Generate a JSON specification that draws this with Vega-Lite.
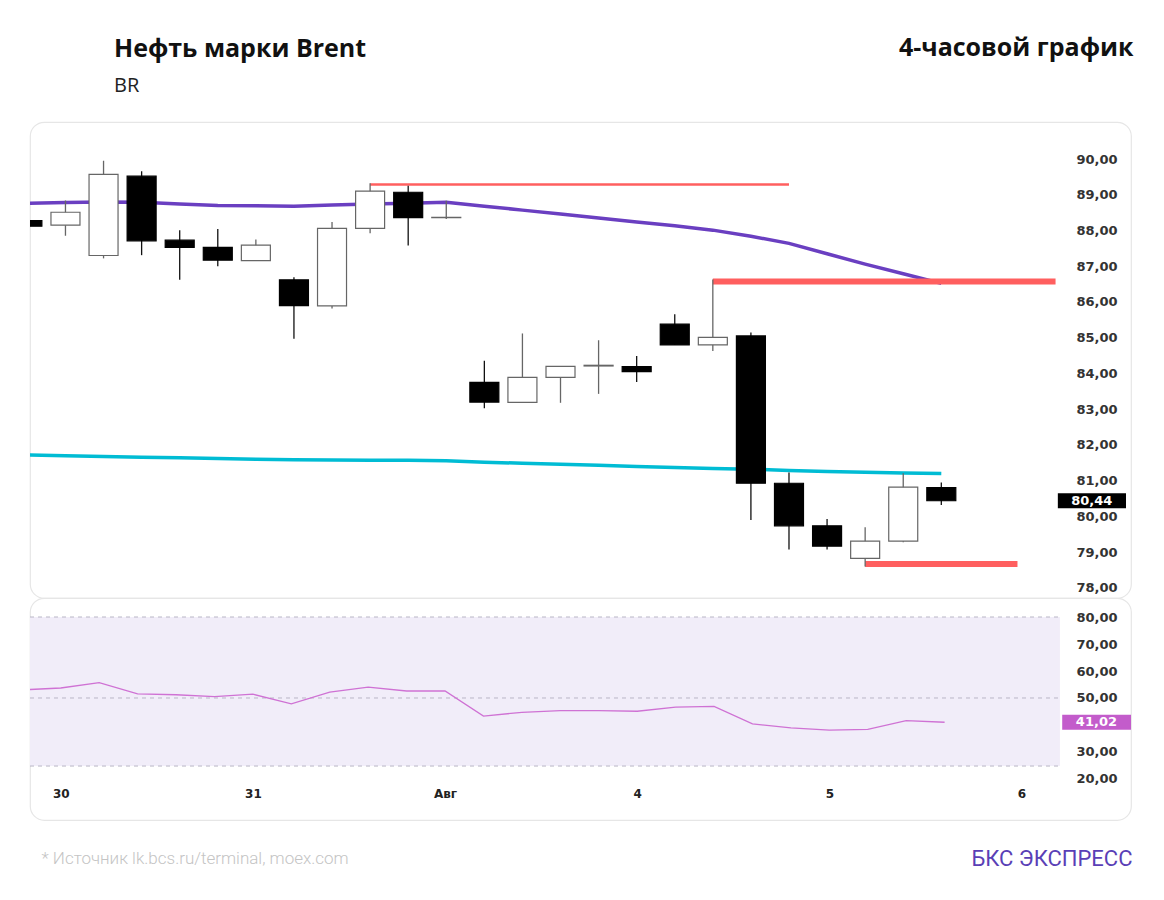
{
  "$schema": "https://vega.github.io/schema/vega-lite/v6.json",
  "padding": {"left": 28, "top": 34, "right": 32, "bottom": 20},
  "title": {
    "text": "Нефть марки Brent",
    "subtitle": "BR",
    "anchor": "start",
    "frame": "group",
    "dx": 84,
    "offset": -62,
    "font": "Open Sans",
    "fontSize": 25,
    "fontWeight": "bold",
    "color": "#111111",
    "subtitleFont": "Open Sans",
    "subtitleFontSize": 20,
    "subtitleColor": "#222222",
    "subtitlePadding": 14
  },
  "datasets": {
    "candles": [
      {"i": -1, "o": 88.28, "h": 88.30, "l": 88.10, "c": 88.12, "ma1": 88.76, "ma2": 81.72, "rsi": 53.0},
      {"i": 0, "o": 88.15, "h": 88.84, "l": 87.85, "c": 88.51, "ma1": 88.78, "ma2": 81.70, "rsi": 53.7},
      {"i": 1, "o": 87.30, "h": 89.95, "l": 87.22, "c": 89.57, "ma1": 88.80, "ma2": 81.68, "rsi": 55.7},
      {"i": 2, "o": 89.52, "h": 89.66, "l": 87.31, "c": 87.71, "ma1": 88.79, "ma2": 81.66, "rsi": 51.5},
      {"i": 3, "o": 87.73, "h": 88.01, "l": 86.62, "c": 87.53, "ma1": 88.74, "ma2": 81.64, "rsi": 51.2},
      {"i": 4, "o": 87.53, "h": 88.04, "l": 87.00, "c": 87.17, "ma1": 88.70, "ma2": 81.62, "rsi": 50.5},
      {"i": 5, "o": 87.16, "h": 87.75, "l": 87.16, "c": 87.59, "ma1": 88.69, "ma2": 81.60, "rsi": 51.4},
      {"i": 6, "o": 86.62, "h": 86.69, "l": 84.97, "c": 85.90, "ma1": 88.68, "ma2": 81.59, "rsi": 47.8},
      {"i": 7, "o": 85.89, "h": 88.24, "l": 85.82, "c": 88.06, "ma1": 88.71, "ma2": 81.58, "rsi": 52.2},
      {"i": 8, "o": 88.06, "h": 89.32, "l": 87.92, "c": 89.10, "ma1": 88.74, "ma2": 81.57, "rsi": 54.0},
      {"i": 9, "o": 89.07, "h": 89.25, "l": 87.58, "c": 88.36, "ma1": 88.76, "ma2": 81.57, "rsi": 52.6},
      {"i": 10, "o": 88.36, "h": 88.83, "l": 88.32, "c": 88.37, "ma1": 88.79, "ma2": 81.56, "rsi": 52.6},
      {"i": 11, "o": 83.75, "h": 84.36, "l": 83.03, "c": 83.20, "ma1": 88.68, "ma2": 81.52, "rsi": 43.3},
      {"i": 12, "o": 83.19, "h": 85.12, "l": 83.19, "c": 83.89, "ma1": 88.57, "ma2": 81.49, "rsi": 44.7},
      {"i": 13, "o": 83.89, "h": 84.21, "l": 83.18, "c": 84.20, "ma1": 88.46, "ma2": 81.46, "rsi": 45.3},
      {"i": 14, "o": 84.21, "h": 84.93, "l": 83.43, "c": 84.23, "ma1": 88.35, "ma2": 81.43, "rsi": 45.3},
      {"i": 15, "o": 84.19, "h": 84.49, "l": 83.76, "c": 84.05, "ma1": 88.24, "ma2": 81.40, "rsi": 45.1},
      {"i": 16, "o": 85.38, "h": 85.66, "l": 84.80, "c": 84.80, "ma1": 88.13, "ma2": 81.37, "rsi": 46.6},
      {"i": 17, "o": 84.80, "h": 86.63, "l": 84.63, "c": 85.01, "ma1": 88.01, "ma2": 81.34, "rsi": 46.9},
      {"i": 18, "o": 85.05, "h": 85.15, "l": 79.90, "c": 80.93, "ma1": 87.84, "ma2": 81.32, "rsi": 40.4},
      {"i": 19, "o": 80.93, "h": 81.23, "l": 79.08, "c": 79.74, "ma1": 87.64, "ma2": 81.29, "rsi": 38.9},
      {"i": 20, "o": 79.74, "h": 79.93, "l": 79.08, "c": 79.17, "ma1": 87.35, "ma2": 81.26, "rsi": 38.1},
      {"i": 21, "o": 78.83, "h": 79.70, "l": 78.60, "c": 79.31, "ma1": 87.06, "ma2": 81.24, "rsi": 38.4},
      {"i": 22, "o": 79.31, "h": 81.21, "l": 79.28, "c": 80.82, "ma1": 86.79, "ma2": 81.22, "rsi": 41.6},
      {"i": 23, "o": 80.81, "h": 80.95, "l": 80.32, "c": 80.44, "ma1": 86.52, "ma2": 81.20, "rsi": 41.02}
    ],
    "levels": [
      {"level": 89.29, "start": 8, "end": 19, "kind": "minor"},
      {"level": 86.57, "start": 17, "end": 26, "kind": "major"},
      {"level": 78.67, "start": 21, "end": 25, "kind": "major"}
    ],
    "rsi_zone": [
      {"upper": 80, "lower": 24.8}
    ],
    "rsi_guides": [
      {"level": 80},
      {"level": 50},
      {"level": 24.8}
    ]
  },
  "spacing": 0,
  "bounds": "flush",
  "vconcat": [
    {
      "width": 1101,
      "height": 476,
      "layer": [
        {
          "data": {"name": "candles"},
          "mark": {"type": "line", "color": "#00bcd4", "strokeWidth": 3.5, "clip": true},
          "encoding": {
            "x": {"field": "i", "type": "quantitative", "scale": {"domain": [-0.8, 27.85], "nice": false, "zero": false}, "axis": null},
            "y": {
              "field": "ma2", "type": "quantitative",
              "scale": {"domain": [77.72, 91.035], "nice": false, "zero": false},
              "axis": {
                "orient": "right", "offset": -57, "labelPadding": 2, "labelAlign": "left",
                "values": [78, 79, 80, 81, 82, 83, 84, 85, 86, 87, 88, 89, 90], "tickCount": 20, "format": ".2f",
                "title": "4-часовой график", "titleAngle": 0, "titleX": 59, "titleY": -75,
                "titleAlign": "right", "titleBaseline": "middle",
                "titleFont": "Open Sans", "titleFontSize": 25, "titleFontWeight": "bold", "titleColor": "#111111"
              }
            }
          }
        },
        {
          "data": {"name": "candles"},
          "mark": {"type": "line", "color": "#6a3fc1", "strokeWidth": 3.5, "clip": true},
          "encoding": {
            "x": {"field": "i", "type": "quantitative"},
            "y": {"field": "ma1", "type": "quantitative"}
          }
        },
        {
          "data": {"name": "levels"},
          "mark": {"type": "rule", "color": "#ff5f5f", "strokeCap": "butt", "clip": true},
          "encoding": {
            "x": {"field": "start", "type": "quantitative"},
            "x2": {"field": "end"},
            "y": {"field": "level", "type": "quantitative"},
            "strokeWidth": {"field": "kind", "type": "nominal", "scale": {"domain": ["minor", "major"], "range": [2.5, 6]}, "legend": null}
          }
        },
        {
          "data": {"name": "candles"},
          "mark": {"type": "rule", "strokeWidth": 1.3, "clip": true},
          "encoding": {
            "x": {"field": "i", "type": "quantitative"},
            "y": {"field": "l", "type": "quantitative"},
            "y2": {"field": "h"},
            "color": {"condition": {"test": "datum.c < datum.o", "value": "#111111"}, "value": "#666666"}
          }
        },
        {
          "data": {"name": "candles"},
          "mark": {"type": "bar", "width": 29, "strokeWidth": 1.2, "clip": true},
          "encoding": {
            "x": {"field": "i", "type": "quantitative"},
            "y": {"field": "o", "type": "quantitative"},
            "y2": {"field": "c"},
            "fill": {"condition": {"test": "datum.c < datum.o", "value": "#000000"}, "value": "#ffffff"},
            "stroke": {"condition": {"test": "datum.c < datum.o", "value": "#000000"}, "value": "#666666"}
          }
        },
        {
          "data": {"name": "candles"},
          "transform": [{"filter": "datum.i == 23"}],
          "mark": {"type": "rule", "color": "#000000", "strokeWidth": 15, "strokeCap": "butt"},
          "encoding": {
            "x": {"datum": 26.06},
            "x2": {"datum": 27.85},
            "y": {"field": "c", "type": "quantitative"}
          }
        },
        {
          "data": {"name": "candles"},
          "transform": [{"filter": "datum.i == 23"}],
          "mark": {"type": "text", "color": "#ffffff", "font": "DejaVu Sans", "fontSize": 13, "fontWeight": "bold", "align": "center", "baseline": "middle"},
          "encoding": {
            "x": {"datum": 26.95},
            "y": {"field": "c", "type": "quantitative"},
            "text": {"field": "c", "type": "quantitative", "format": ".2f"}
          }
        }
      ]
    },
    {
      "width": 1101,
      "height": 222,
      "layer": [
        {
          "data": {"name": "rsi_zone"},
          "mark": {"type": "rect", "color": "#f1edf9", "clip": true},
          "encoding": {
            "x": {"datum": -0.8, "type": "quantitative", "scale": {"domain": [-0.8, 27.85], "nice": false, "zero": false},
              "axis": {
                "orient": "bottom", "offset": -34, "labelPadding": 2,
                "values": [0, 5, 10, 15, 20, 25],
                "labelExpr": "['30', '31', 'Авг', '4', '5', '6'][datum.value / 5]",
                "labelFontSize": 12, "labelFontWeight": "bold", "labelColor": "#222222",
                "title": "* Источник lk.bcs.ru/terminal, moex.com", "titleX": 11, "titleY": 72,
                "titleAlign": "left", "titleBaseline": "middle", "titleAnchor": "start",
                "titleFont": "Roboto", "titleFontSize": 17, "titleFontWeight": 300, "titleColor": "#c4c4c4"
              }
            },
            "x2": {"datum": 26},
            "y": {"field": "upper", "type": "quantitative",
              "scale": {"domain": [4.81, 87.04], "nice": false, "zero": false},
              "axis": {
                "orient": "right", "offset": -57, "labelPadding": 2, "labelAlign": "left",
                "values": [20, 30, 50, 60, 70, 80], "tickCount": 10, "format": ".2f",
                "title": "БКС ЭКСПРЕСС", "titleAngle": 0, "titleX": 58, "titleY": 260,
                "titleAlign": "right", "titleBaseline": "middle",
                "titleFont": "Roboto", "titleFontSize": 22, "titleFontWeight": "normal", "titleColor": "#5a3fb6"
              }
            },
            "y2": {"field": "lower"}
          }
        },
        {
          "data": {"name": "rsi_guides"},
          "mark": {"type": "rule", "color": "#b9b6c6", "strokeWidth": 1, "strokeDash": [4, 4]},
          "encoding": {
            "x": {"datum": -0.8},
            "x2": {"datum": 26},
            "y": {"field": "level", "type": "quantitative"}
          }
        },
        {
          "data": {"name": "candles"},
          "mark": {"type": "line", "color": "#cf72d4", "strokeWidth": 1.3, "clip": true},
          "encoding": {
            "x": {"field": "i", "type": "quantitative"},
            "y": {"field": "rsi", "type": "quantitative"}
          }
        },
        {
          "data": {"name": "candles"},
          "transform": [{"filter": "datum.i == 23"}],
          "mark": {"type": "rule", "color": "#c35ccb", "strokeWidth": 15, "strokeCap": "butt"},
          "encoding": {
            "x": {"datum": 26.06},
            "x2": {"datum": 27.85},
            "y": {"field": "rsi", "type": "quantitative"}
          }
        },
        {
          "data": {"name": "candles"},
          "transform": [{"filter": "datum.i == 23"}],
          "mark": {"type": "text", "color": "#ffffff", "font": "DejaVu Sans", "fontSize": 13, "fontWeight": "bold", "align": "center", "baseline": "middle"},
          "encoding": {
            "x": {"datum": 26.95},
            "y": {"field": "rsi", "type": "quantitative"},
            "text": {"field": "rsi", "type": "quantitative", "format": ".2f"}
          }
        }
      ]
    }
  ],
  "config": {
    "background": "#ffffff",
    "locale": {
      "number": {"decimal": ",", "thousands": " ", "grouping": [3], "currency": ["", ""]}
    },
    "view": {"stroke": "#e6e6e6", "strokeWidth": 1.2, "cornerRadius": 14},
    "axis": {
      "grid": false,
      "domain": false,
      "ticks": false,
      "labelOverlap": false,
      "labelFont": "DejaVu Sans",
      "labelFontSize": 13,
      "labelFontWeight": 600,
      "labelColor": "#333333"
    }
  }
}
